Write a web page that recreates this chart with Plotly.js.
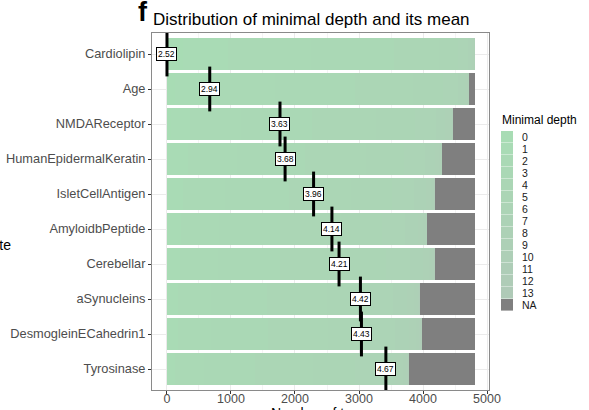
<!DOCTYPE html>
<html>
<head>
<meta charset="utf-8">
<script src="https://cdn.plot.ly/plotly-3.0.1.min.js"></script>
<style>html,body{margin:0;padding:0;background:#fff;}#chart{width:589px;height:410px;}</style>
</head>
<body>
<div id="chart"></div>
<script>
// ---- data ----
const variables = ["Cardiolipin","Age","NMDAReceptor","HumanEpidermalKeratin","IsletCellAntigen","AmyloidbPeptide","Cerebellar","aSynucleins","DesmogleinECahedrin1","Tyrosinase"];
const depthLabels = ["0","1","2","3","4","5","6","7","8","9","10","11","12","13","NA"];
// counts of trees per minimal depth (rows = depth 0..13, cols = variables)
const depth0  = [250,120, 60, 50, 30, 25, 20, 15, 15, 10];
const depth1  = [700,520,300,280,220,190,180,150,150,120];
const depth2  = [1300,1050,800,760,650,600,600,520,520,450];
const depth3  = [1300,1250,1100,1060,1000,950,970,880,890,800];
const depth4  = [700,900,1000,960,980,960,990,930,940,900];
const depth5  = [300,480,620,600,630,640,660,660,650,650];
const depth6  = [150,230,320,320,350,360,380,380,390,400];
const depth7  = [70,100,150,150,180,190,200,220,220,230];
const depth8  = [30,40,70,70,82,88,100,110,110,120];
const depth9  = [8,18,28,32,36,38,45,50,50,55];
const depth10 = [3,7,10,12,15,15,22,22,25,25];
const depth11 = [1,3,4,6,6,5,10,10,10,12];
const depth12 = [0,1,2,2,3,2,5,4,8,6];
const depth13 = [0,0,0,0,0,0,0,2,6,3];
const depthNA = [0,93,348,510,630,749,630,859,828,1031];
const meanDepth = [2.52,2.94,3.63,3.68,3.96,4.14,4.21,4.42,4.43,4.67];
const labelScaleMax = 3420; // mean labels are rescaled onto the tree-count axis
const xTicks = [0,1000,2000,3000,4000,5000];

const series = [depth0,depth1,depth2,depth3,depth4,depth5,depth6,depth7,depth8,depth9,depth10,depth11,depth12,depth13,depthNA];
const colors = ["#a8dcb4","#a9dbb5","#aad9b5","#aad8b5","#abd6b5","#abd5b5","#acd4b6","#acd2b6","#add1b6","#add0b6","#aecfb7","#aecdb7","#afccb7","#afcab7","#7f7f7f"];

// ---- geometry helpers (layout only) ----
const W = 589, H = 410;
const mL = 152, mR = 100, mT = 33, mB = 20;
const pw = W - mL - mR, ph = H - mT - mB;
const px2x = p => (p - mL) / pw;
const py2y = p => (H - mB - p) / ph;
const FONT = "Liberation Sans, Arial, sans-serif";

const traces = series.map((vals, i) => ({
  type: "bar", orientation: "h",
  x: vals, y: variables,
  name: depthLabels[i],
  marker: {color: colors[i], line: {width: 0}},
  showlegend: false, hoverinfo: "x+name"
}));

const mn = Math.min(...meanDepth), mx = Math.max(...meanDepth);
const labelPos = meanDepth.map(m => (m - mn) / (mx - mn) * labelScaleMax);

traces.push({
  type: "scatter", mode: "markers",
  x: labelPos, y: variables,
  marker: {symbol: "line-ns", size: 32, color: "#000", line: {color: "#000", width: 3}},
  showlegend: false, hoverinfo: "skip"
});

const annotations = meanDepth.map((m, i) => ({
  x: labelPos[i], y: variables[i], xref: "x", yref: "y",
  text: m.toFixed(2), showarrow: false,
  font: {family: FONT, size: 8.5, color: "#000"},
  bgcolor: "#fff", bordercolor: "#000", borderwidth: 1, borderpad: 1
}));

// titles
annotations.push({xref:"paper", yref:"paper", x:px2x(136), y:py2y(12), xanchor:"left", yanchor:"middle",
  text:"<b>f</b>", showarrow:false, font:{family:FONT, size:27, color:"#000"}});
annotations.push({xref:"paper", yref:"paper", x:px2x(151), y:py2y(20), xanchor:"left", yanchor:"middle",
  text:"Distribution of minimal depth and its mean", showarrow:false, font:{family:FONT, size:17, color:"#000"}});
annotations.push({xref:"paper", yref:"paper", x:px2x(13), y:py2y(245), xanchor:"right", yanchor:"middle",
  text:"Covariate", showarrow:false, font:{family:FONT, size:14, color:"#000"}});
annotations.push({xref:"paper", yref:"paper", x:0.5, y:py2y(404), xanchor:"center", yanchor:"top",
  text:"Number of trees", showarrow:false, font:{family:FONT, size:14, color:"#000"}, borderpad:0});

// manual legend
const shapes = [];
annotations.push({xref:"paper", yref:"paper", x:px2x(500), y:py2y(120), xanchor:"left", yanchor:"middle",
  text:"Minimal depth", showarrow:false, font:{family:FONT, size:12, color:"#000"}});
depthLabels.forEach((lab, i) => {
  const top = 131 + 12 * i;
  shapes.push({type:"rect", xref:"paper", yref:"paper", x0:px2x(501), x1:px2x(513), y0:py2y(top+11.6), y1:py2y(top),
    fillcolor: colors[i], line:{width:0}, layer:"above"});
  annotations.push({xref:"paper", yref:"paper", x:px2x(520), y:py2y(top+6), xanchor:"left", yanchor:"middle",
    text: lab, showarrow:false, font:{family:FONT, size:10.5, color:"#1a1a1a"}});
});

const layout = {
  width: W, height: H,
  margin: {l: mL, r: mR, t: mT, b: mB, pad: 0},
  paper_bgcolor: "#fff", plot_bgcolor: "#fff",
  barmode: "stack", bargap: 0.1,
  showlegend: false,
  font: {family: FONT},
  xaxis: {
    range: [-234, 5031], tickvals: xTicks, ticktext: xTicks.map(String),
    ticks: "outside", ticklen: 3, tickcolor: "#333", tickwidth: 1,
    ticklabelstandoff: -6,
    tickfont: {family: FONT, size: 12.5, color: "#4d4d4d"},
    showgrid: true, gridcolor: "#ebebeb", gridwidth: 1,
    minor: {dtick: 500, tick0: 0, showgrid: true, gridcolor: "#f4f4f4", gridwidth: 1},
    zeroline: false, showline: true, mirror: true, linecolor: "#8a8a8a", linewidth: 1
  },
  yaxis: {
    type: "category", categoryorder: "array", categoryarray: variables,
    range: [9.6, -0.6],
    ticks: "outside", ticklen: 3, tickcolor: "#333", tickwidth: 1,
    tickfont: {family: FONT, size: 12.8, color: "#4d4d4d"},
    showgrid: true, gridcolor: "#ebebeb", gridwidth: 1,
    zeroline: false, showline: true, mirror: true, linecolor: "#8a8a8a", linewidth: 1
  },
  annotations: annotations,
  shapes: shapes
};

Plotly.newPlot("chart", traces, layout, {staticPlot: true, displayModeBar: false});
</script>
</body>
</html>
